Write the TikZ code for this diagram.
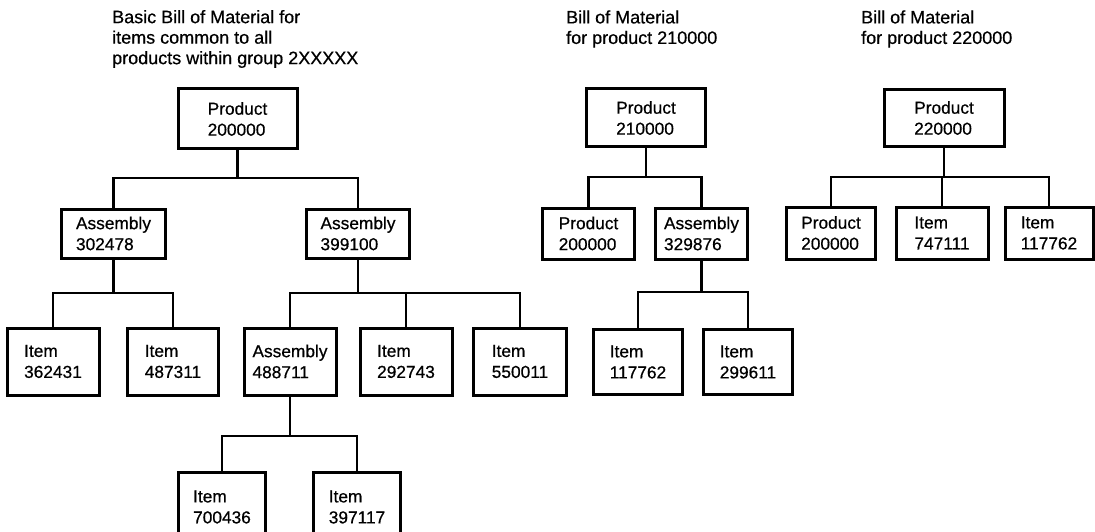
\documentclass[tikz,border=0pt]{standalone}
\usepackage{fontspec}
\setmainfont{Liberation Sans}
\newfontfamily\reffont[FakeBold=0.6]{Liberation Sans}
\begin{document}
\begin{tikzpicture}[x=1pt,y=-1pt,
  box/.style n args={2}{draw=black, line width=3pt, inner sep=0pt, outer sep=0pt,
    minimum width=#1pt, minimum height=#2pt, align=left,
    font=\reffont\fontsize{17.3}{21}\selectfont},
  title/.style={inner sep=0pt, align=left, anchor=west,
    font=\reffont\fontsize{18}{20.5}\selectfont},
  link/.style={line width=2.3pt, line join=miter}]
\fill[white] (0,0) rectangle (1095,532);
\useasboundingbox (0,0) rectangle (1095,532);
\clip (0,0) rectangle (1095,532);

% titles
\node[title] (t1) at (112,39) {Basic Bill of Material for\\items common to all\\products within group 2XXXXX};
\node[title] (t2) at (566,29) {Bill of Material\\for product 210000};
\node[title] (t3) at (861,29) {Bill of Material\\for product 220000};

% tree 1
\node[box={119}{60}] (p200) at (237.5,119) {Product\\200000};
\node[box={104}{49}] (a302478) at (113.5,233.5) {Assembly\\302478};
\node[box={103}{49}] (a399100) at (358,233.5) {Assembly\\399100};
\node[box={92}{67}] (i362431) at (53,361.5) {Item\\362431};
\node[box={91}{67}] (i487311) at (173,361.5) {Item\\487311};
\node[box={92}{67}] (a488711) at (290,361.5) {Assembly\\488711};
\node[box={92}{67}] (i292743) at (406,361.5) {Item\\292743};
\node[box={93}{67}] (i550011) at (520,361.5) {Item\\550011};
\node[box={87}{70}] (i700436) at (222,507) {Item\\700436};
\node[box={87}{70}] (i397117) at (357,507) {Item\\397117};

\coordinate (b1) at (237.5,178);
\draw[link] (p200.south) -- (b1);
\draw[link] (a302478.north) |- (b1);
\draw[link] (a399100.north) |- (b1);

\coordinate (b2) at (113.5,293);
\draw[link] (a302478.south) -- (b2);
\draw[link] (i362431.north) |- (b2);
\draw[link] (i487311.north) |- (b2);

\coordinate (b3) at (358,293);
\draw[link] (a399100.south) -- (b3);
\draw[link] (a488711.north) |- (b3);
\draw[link] (i292743.north) |- (b3);
\draw[link] (i550011.north) |- (b3);

\coordinate (b4) at (290,436);
\draw[link] (a488711.south) -- (b4);
\draw[link] (i700436.north) |- (b4);
\draw[link] (i397117.north) |- (b4);

% tree 2
\node[box={119}{58}] (p210000) at (646,118) {Product\\210000};
\node[box={92}{51}] (p200000b) at (588.5,233.5) {Product\\200000};
\node[box={92}{51}] (a329876) at (701.5,233.5) {Assembly\\329876};
\node[box={89}{65}] (i117762) at (638,362) {Item\\117762};
\node[box={89}{65}] (i299611) at (748,362) {Item\\299611};

\coordinate (b5) at (646,177);
\draw[link] (p210000.south) -- (b5);
\draw[link] (p200000b.north) |- (b5);
\draw[link] (a329876.north) |- (b5);

\coordinate (b6) at (701.5,292);
\draw[link] (a329876.south) -- (b6);
\draw[link] (i117762.north) |- (b6);
\draw[link] (i299611.north) |- (b6);

% tree 3
\node[box={120}{57}] (p220000) at (944,118) {Product\\220000};
\node[box={89}{52}] (p200000c) at (831,233) {Product\\200000};
\node[box={92}{52}] (i747111) at (942,233) {Item\\747111};
\node[box={88}{52}] (i117762b) at (1049,233) {Item\\117762};

\coordinate (b7) at (944,177);
\draw[link] (p220000.south) -- (b7);
\draw[link] (p200000c.north) |- (b7);
\draw[link] (i747111.north) |- (b7);
\draw[link] (i117762b.north) |- (b7);
\end{tikzpicture}
\end{document}
